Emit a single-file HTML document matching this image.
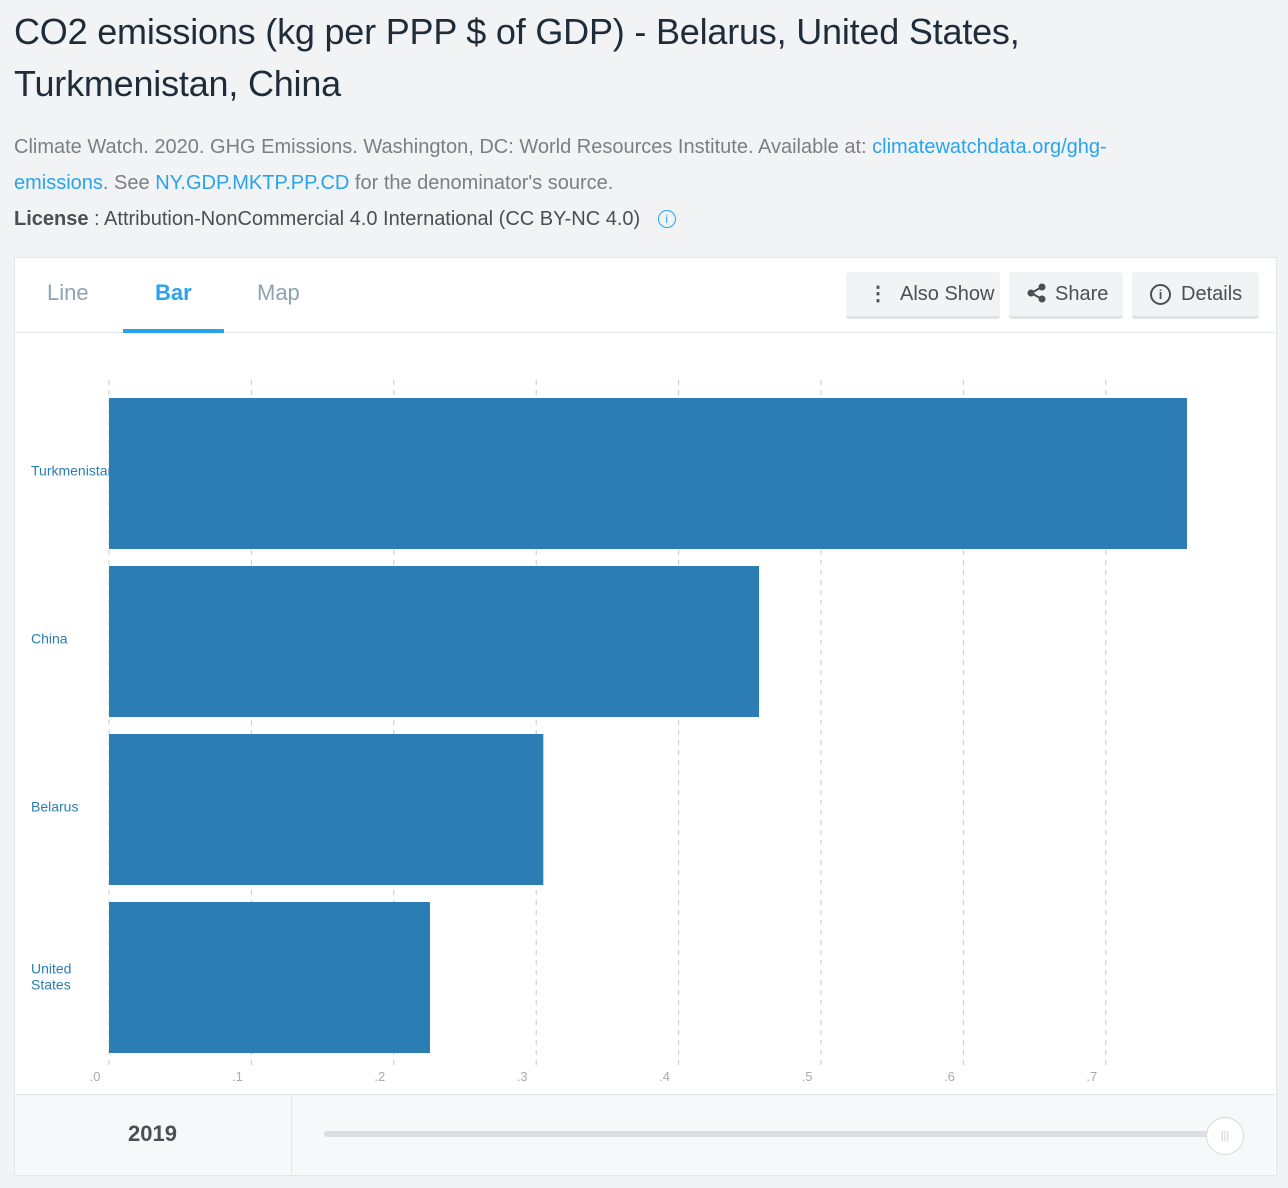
<!DOCTYPE html>
<html><head><meta charset="utf-8"><style>
body{margin:0;width:1288px;height:1188px;background:#f2f3f5;font-family:"Liberation Sans",sans-serif;position:relative;overflow:hidden}
.abs{position:absolute}
h1{position:absolute;left:14px;top:6px;margin:0;font-size:36px;line-height:52px;font-weight:normal;color:#1f2d3a;width:1260px;letter-spacing:-0.2px}
.src{left:14px;top:129px;font-size:20px;line-height:36px;color:#7a7f85;width:1250px;white-space:nowrap}
.src a{color:#2aa3ee;text-decoration:none}
.lic{left:14px;top:208px;font-size:20px;color:#4a4f55}
.panel{left:14px;top:257px;width:1261px;height:917px;background:#fff;border:1px solid #e3e6e8}
.tab{top:280px;font-size:22px;color:#8ea3b0}
.btn{top:272px;height:47px;background:#f2f3f5;border-bottom:3px solid #e0e2e5;border-radius:3px;font-size:20px;color:#4a4f55;line-height:44px;box-sizing:border-box}
</style></head><body>
<h1>CO2 emissions (kg per PPP $ of GDP) - Belarus, United States,<br>Turkmenistan, China</h1>
<div class="abs src">Climate Watch. 2020. GHG Emissions. Washington, DC: World Resources Institute. Available at: <a>climatewatchdata.org/ghg-<br>emissions</a>. See <a>NY.GDP.MKTP.PP.CD</a> for the denominator's source.</div>
<div class="abs lic"><b>License</b> : Attribution-NonCommercial 4.0 International (CC BY-NC 4.0) <span style="color:#2aa3ee;display:inline-block;width:16px;height:16px;border:1.5px solid #2aa3ee;border-radius:50%;font-size:12px;line-height:16px;text-align:center;margin-left:12px;vertical-align:2px">i</span></div>
<div class="abs panel"></div>
<div class="abs" style="left:15px;top:332px;width:1260px;height:1px;background:#e3e6e8"></div>
<div class="abs tab" style="left:47px">Line</div>
<div class="abs tab" style="left:155px;color:#2aa3ee;font-weight:bold">Bar</div>
<div class="abs" style="left:123px;top:329px;width:101px;height:4px;background:#2aa3ee"></div>
<div class="abs tab" style="left:257px">Map</div>
<div class="abs btn" style="left:846px;width:154px;padding-left:22px"><span style="margin-right:12px;font-weight:bold">⋮</span>Also Show</div>
<div class="abs btn" style="left:1009px;width:114px;padding-left:18px"><svg width="20" height="20" style="vertical-align:-3px;margin-right:8px"><g stroke="#4a4f55" stroke-width="2" fill="#4a4f55"><line x1="4" y1="10" x2="15" y2="4"/><line x1="4" y1="10" x2="15" y2="16"/><circle cx="4" cy="10" r="2.5"/><circle cx="15" cy="4" r="2.5"/><circle cx="15" cy="16" r="2.5"/></g></svg>Share</div>
<div class="abs btn" style="left:1132px;width:127px;padding-left:18px"><span style="display:inline-block;width:17px;height:17px;border:2px solid #4a4f55;border-radius:50%;font-size:13px;line-height:17px;text-align:center;margin-right:10px;vertical-align:1px;font-weight:bold">i</span>Details</div>
<svg class="abs" style="left:0;top:0" width="1288" height="1188" id="chart"></svg>
<div class="abs" style="left:15px;top:1094px;width:1260px;height:80px;background:#f7f8fa;border-top:1px solid #e3e6e8"></div>
<div class="abs" style="left:291px;top:1095px;width:1px;height:79px;background:#e3e6e8"></div>
<div class="abs" style="left:128px;top:1121px;font-size:22px;font-weight:bold;color:#4a4f55">2019</div>
<div class="abs" style="left:324px;top:1131px;width:900px;height:6px;border-radius:3px;background:#dcdee3"></div>
<div class="abs" style="left:1206px;top:1117px;width:36px;height:36px;border-radius:50%;background:#fff;border:1px solid #d5d8dc;color:#ccc;font-size:11px;text-align:center;line-height:36px">|||</div>
<script>
const categories=["Turkmenistan","China","Belarus","United States"];
const values=[0.757,0.4565,0.305,0.2254];
const ticks=[0,0.1,0.2,0.3,0.4,0.5,0.6,0.7];
const tickLabels=[".0",".1",".2",".3",".4",".5",".6",".7"];
const svg=document.getElementById('chart');const NS='http://www.w3.org/2000/svg';
const x=v=>109+v*1424;
const rowTop=i=>398+i*168, barH=151;
function mk(t,a){const e=document.createElementNS(NS,t);for(const k in a)e.setAttribute(k,a[k]);svg.appendChild(e);return e;}
ticks.forEach((t,i)=>{
 const g=mk('line',{x1:x(t),x2:x(t),y1:380,y2:1068,stroke:'#c8c8c8','stroke-dasharray':'5,5'});
 
 
 const l=mk('text',{x:x(t)-14,y:1081,'font-size':13,fill:'#aaa','text-anchor':'middle','font-family':'Liberation Sans'});
 l.textContent=tickLabels[i];
 
 
});
categories.forEach((c,i)=>{
 const r=mk('rect',{x:x(0),y:rowTop(i),width:x(values[i])-x(0),height:barH,fill:'#2c7db3'});
 
 
 const words=c==="United States"?["United","States"]:[c];
 const t=mk('text',{x:31,y:rowTop(i)+barH/2+2-(words.length-1)*6,'font-size':14,fill:'#2c7db3','font-family':'Liberation Sans'});
 
 
 words.forEach((w,j)=>{const s=document.createElementNS(NS,'tspan');s.setAttribute('x',31);s.setAttribute('dy',j?16:0);s.textContent=w;t.appendChild(s);});
});
</script>
</body></html>
